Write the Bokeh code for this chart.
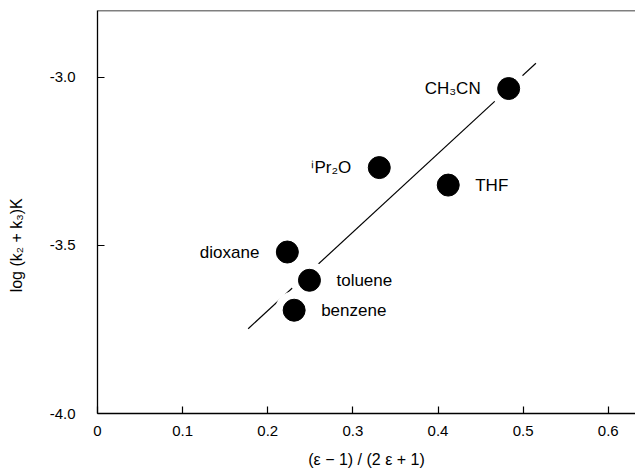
from bokeh.plotting import figure
from bokeh.models import Range1d, Span, FixedTicker, ColumnDataSource
from bokeh.core.properties import value
from bokeh.embed import file_html
from bokeh.resources import INLINE

solvents = ["CH₃CN", "ⁱPr₂O", "THF", "dioxane", "toluene", "benzene"]
polarity = [0.483, 0.331, 0.412, 0.223, 0.249, 0.231]
log_k = [-3.034, -3.269, -3.321, -3.520, -3.604, -3.693]
label_side = ["left", "left", "right", "left", "right", "right"]

fit_x = [0.177, 0.515]
fit_y = [-3.748, -2.959]

x_ticks = [0, 0.1, 0.2, 0.3, 0.4, 0.5, 0.6]
x_tick_labels = {0: "0", 0.1: "0.1", 0.2: "0.2", 0.3: "0.3", 0.4: "0.4", 0.5: "0.5", 0.6: "0.6"}
y_ticks = [-4.0, -3.5, -3.0]
y_tick_labels = {-4.0: "-4.0", -3.5: "-3.5", -3.0: "-3.0"}

FONT = "Liberation Sans"
NBSP = "\u00a0"

p = figure(width=635, height=473, output_backend="svg", toolbar_location=None,
           x_range=Range1d(0, 0.632), y_range=Range1d(-4.0, -2.802),
           min_border_left=97, min_border_right=0, min_border_top=10, min_border_bottom=60)
p.outline_line_color = None
p.grid.visible = False
p.background_fill_color = "white"
p.border_fill_color = "white"

for ax in (p.xaxis[0], p.yaxis[0]):
    ax.major_tick_in = 7
    ax.major_tick_out = 0
    ax.minor_tick_line_color = None
    ax.axis_line_color = "black"
    ax.axis_line_width = 1.3
    ax.major_tick_line_width = 1.2
    ax.major_label_text_font = FONT
    ax.major_label_text_font_size = "15px"
    ax.major_label_text_color = "black"
    ax.axis_label_text_font = FONT
    ax.axis_label_text_font_style = "normal"
    ax.axis_label_text_font_size = "16px"
    ax.axis_label_text_color = "black"

p.xaxis.ticker = FixedTicker(ticks=x_ticks)
p.xaxis.major_label_overrides = x_tick_labels
p.xaxis.major_label_standoff = 12
p.xaxis.axis_label = "(ε − 1) / (2 ε + 1)"
p.xaxis.axis_label_standoff = 12

p.yaxis.ticker = FixedTicker(ticks=y_ticks)
p.yaxis.major_label_overrides = y_tick_labels
p.yaxis.major_label_standoff = 22
p.yaxis.axis_label = "log (k₂ + k₃)K" + NBSP * 15
p.yaxis.axis_label_standoff = 22

p.add_layout(Span(location=-2.802, dimension="width", line_color="black", line_width=1.3))

p.line(fit_x, fit_y, line_color="black", line_width=1.2)

src = ColumnDataSource(dict(x=polarity, y=log_k))
p.scatter("x", "y", source=src, size=38, fill_color="white", line_color=None)
p.scatter("x", "y", source=src, size=22, fill_color="black", line_color="black")

left_idx = [i for i, s in enumerate(label_side) if s == "left"]
right_idx = [i for i, s in enumerate(label_side) if s == "right"]
p.text([polarity[i] for i in left_idx], [log_k[i] for i in left_idx],
       text=[solvents[i] for i in left_idx], x_offset=-28, y_offset=0,
       text_align="right", text_baseline="middle", text_font=value(FONT),
       text_font_size="17px", text_color="black")
p.text([polarity[i] for i in right_idx], [log_k[i] for i in right_idx],
       text=[solvents[i] for i in right_idx], x_offset=27, y_offset=0,
       text_align="left", text_baseline="middle", text_font=value(FONT),
       text_font_size="17px", text_color="black")

open("out.html", "w").write(file_html(p, INLINE))
